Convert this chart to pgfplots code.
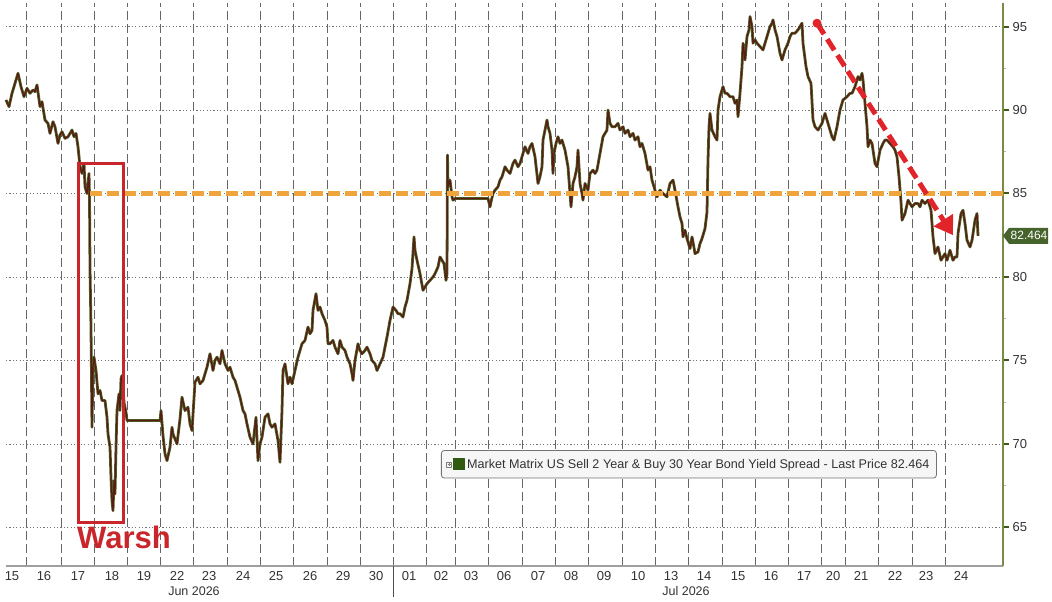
\documentclass[border=0pt]{standalone}
\usepackage{pgfplots}
\pgfplotsset{compat=1.18}
\usepackage{fontspec}
\setmainfont{Liberation Sans}
\usetikzlibrary{arrows.meta}
\definecolor{textgray}{HTML}{333333}
\definecolor{axisgreen}{HTML}{7A8A4A}
\definecolor{tickgreen}{HTML}{3E5A14}
\definecolor{candleG}{HTML}{4B5E23}
\definecolor{candleR}{HTML}{5B1A14}
\definecolor{orangeline}{HTML}{F0A53C}
\definecolor{warshred}{HTML}{C8262B}
\definecolor{arrowred}{HTML}{E0242A}
\definecolor{pricegreen}{HTML}{45632A}
\definecolor{legendgreen}{HTML}{2F5A10}
\pgfplotstableread{
x y
6 90.6
9 90.2
12 91.0
15 91.6
18 92.2
21 91.4
24 90.8
27 91.3
30 91.0
33 91.2
35 91.1
37 91.5
40 90.2
42 90.5
45 89.4
48 89.2
50 88.6
53 89.3
55 89.0
58 88.0
60 88.5
62 88.7
65 88.3
68 88.4
70 88.6
72 88.8
74 88.4
76 88.6
78 87.8
80 86.6
82 86.2
84 86.8
85 85.4
87 85.0
89 86.2
89.5 84.8
90 80.5
91 77.0
92 71.0
93 74.6
94 75.2
96 74.4
98 73.0
100 73.2
102 72.6
105 72.6
107 71.6
108 70.6
110 69.8
111 68.0
112 66.6
113 66.0
114 67.8
115 67.0
116 69.8
117 72.0
119 73.0
120 72.0
121 73.9
122 74.1
124 72.5
126 71.9
127 71.4
160 71.4
161 72.0
163 70.5
165 69.4
167 69.0
170 69.8
172 71.0
173 70.6
175 70.3
177 70.0
180 71.5
182 72.8
185 72.0
188 72.2
190 71.2
192 70.8
195 73.7
198 74.0
200 73.6
203 73.8
205 74.2
207 74.6
210 75.4
213 74.4
215 75.0
217 75.2
220 74.8
222 75.6
225 74.8
228 74.4
230 74.6
233 74.0
235 73.8
237 73.4
240 72.8
243 72.0
245 71.8
247 71.2
250 70.4
253 70.0
256 71.6
258 69.0
260 70.0
262 70.4
265 71.6
268 71.8
270 71.2
272 71.0
275 71.2
278 70.2
280 68.9
282 72.0
283 74.4
285 74.8
288 73.6
290 74.0
292 73.6
295 74.4
298 75.2
302 76.0
305 76.2
308 77.0
310 76.6
312 76.8
313 78.0
316 79.0
318 78.0
320 78.2
322 77.8
325 77.4
327 77.0
328 76.0
330 76.0
333 76.2
335 75.8
338 75.4
340 76.2
342 75.8
345 75.6
347 75.2
350 74.8
352 74.2
353 73.8
355 75.0
358 76.0
360 75.6
362 75.4
365 75.6
367 75.8
370 75.4
372 75.0
375 74.8
377 74.4
380 74.8
383 75.2
385 75.8
387 76.4
390 77.4
393 78.2
396 78.0
398 77.8
400 77.8
403 77.6
405 78.2
407 78.6
410 79.6
412 80.5
414 82.4
415 81.6
417 81.0
420 80.2
423 79.2
425 79.4
427 79.6
430 79.8
433 80.0
435 80.2
438 80.6
440 81.2
442 81.0
444 80.8
446 79.8
447 80.2
447.5 87.3
448 85.4
450 85.8
452 84.8
453 84.6
455 84.7
488 84.7
490 84.2
491 84.5
493 85.0
495 85.2
498 85.4
500 85.8
502 86.0
505 86.6
507 86.4
510 86.2
513 86.8
515 87.0
518 86.6
520 86.8
523 87.4
525 87.8
528 87.4
530 87.8
532 88.0
535 87.2
538 85.6
540 86.0
542 86.6
543 88.2
545 88.8
547 89.4
548 89.0
550 88.6
552 87.6
553 86.2
554 87.4
556 88.0
558 88.4
560 88.0
562 88.2
565 87.6
568 86.6
570 85.0
571 84.2
573 85.6
575 86.0
577 86.6
578 87.6
580 85.6
582 85.0
583 84.6
585 85.6
588 85.2
590 86.2
593 86.4
595 86.2
597 86.4
600 87.4
603 88.4
605 88.6
607 88.8
608 90.0
610 89.2
612 89.0
615 89.0
618 89.2
620 88.8
623 89.0
625 88.6
628 88.8
630 88.4
633 88.6
635 88.2
638 88.4
640 87.8
642 88.0
645 87.4
648 86.4
650 86.6
652 85.8
655 85.2
657 84.8
660 85.2
663 85.0
665 84.9
667 84.8
670 85.6
673 85.8
675 85.2
678 84.2
680 83.6
682 83.2
683 82.4
685 82.8
687 82.3
690 81.7
692 82.4
693 82.1
695 81.4
698 81.5
700 82.0
702 82.3
705 82.9
707 83.9
708 87.0
709 89.0
710 89.8
712 88.8
715 88.4
717 88.2
718 90.0
720 90.8
723 91.4
725 91.0
727 91.0
730 90.8
733 90.8
735 90.4
737 90.6
738 89.6
740 91.0
742 92.6
743 94.0
745 93.0
747 94.4
749 94.8
750 95.6
752 95.0
753 94.0
755 94.2
757 94.0
760 93.8
763 93.6
765 94.0
767 94.4
770 95.0
772 95.2
773 95.4
775 94.8
777 94.4
780 93.4
782 93.0
785 93.6
788 94.0
790 94.4
792 94.6
795 94.6
798 94.8
800 95.0
802 95.2
803 94.0
806 92.6
808 92.0
811 91.6
813 89.4
815 89.0
818 88.8
820 89.0
822 89.2
825 89.8
828 89.2
830 88.8
832 88.4
834 88.2
837 89.0
840 90.0
843 90.6
847 90.8
850 91.0
852 91.0
855 91.4
858 92.0
860 91.8
862 92.2
863 91.8
865 90.4
867 89.0
868 87.8
870 88.2
872 88.0
875 86.8
877 86.6
880 87.6
883 88.0
885 88.2
887 88.2
890 88.0
893 87.8
895 87.6
897 87.2
899 86.0
901 84.5
902 83.4
905 83.8
908 84.6
910 84.4
912 84.2
915 84.4
918 84.4
920 84.2
922 84.6
925 84.4
928 84.6
931 84.0
933 82.4
935 81.4
938 81.8
941 81.0
943 81.2
945 81.4
947 81.0
950 81.6
953 81.0
955 81.2
957 81.2
958 82.6
960 83.4
961 83.8
963 84.0
965 83.2
967 82.2
970 81.8
972 82.2
973 82.6
975 83.4
977 83.8
978 82.464
}\spread
\begin{document}
\begin{tikzpicture}
\path[use as bounding box] (0,0) rectangle (1052pt,602pt);
\begin{axis}[
  at={(6pt,36pt)}, anchor=south west,
  scale only axis, width=997pt, height=563pt,
  xmin=6, xmax=1003, ymin=62.69, ymax=96.41,
  clip=false,
  axis x line*=bottom, axis y line*=right,
  x axis line style={color=gray!75, line width=1.3pt},
  y axis line style={color=axisgreen, line width=1.5pt},
  xtick={12,44,78,112,144,177,209,243,276,310,343,376,409,441,471,504,538,571,604,638,671,704,738,771,804,833,861,895,926,961},
  xticklabels={15,16,17,18,19,22,23,24,25,26,29,30,01,02,03,06,07,08,09,10,13,14,15,16,17,20,21,22,23,24},
  minor xtick={26.7,61,94.3,127.7,160,193.3,227.7,260,293.3,327.7,360.7,393.3,426.7,455.7,488.7,522.7,555.7,588.7,622.7,655.7,688.3,722.7,755,788.3,821.7,845,878.3,912.3,945},
  xtick style={draw=none},
  minor x tick style={draw=none},
  xminorgrids=true,
  minor x grid style={dash pattern=on 9pt off 4pt, color=black!60, line width=0.9pt},
  ytick={65,70,75,80,85,90,95},
  minor ytick={67.5,72.5,77.5,82.5,87.5,92.5},
  ymajorgrids=true,
  major y grid style={dash pattern=on 1.2pt off 2.2pt, color=black!55, line width=0.8pt},
  tick align=outside,
  major tick length=6pt, minor tick length=3pt,
  ytick style={color=tickgreen, line width=2pt},
  minor y tick style={color=gray!60, line width=1pt},
  /pgf/number format/assume math mode=true,
  ticklabel style={font=\fontsize{13}{13}\selectfont, text=textgray},
  xticklabel style={yshift=4pt},
  yticklabel style={anchor=west, xshift=0pt},
  legend style={at={(axis description cs:0.4363,0.2060)}, anchor=north west,
    draw=black!55, fill=gray!7, rounded corners=3pt, line width=0.8pt,
    font=\fontsize{12.6}{12.6}\selectfont, text=textgray,
    inner xsep=5pt, inner ysep=6.5pt},
  legend cell align=left,
]
\addplot[candleG, line width=2.8pt, line join=round, forget plot] table[x=x,y=y] {\spread};
\addplot[candleR, line width=1.2pt, line join=round,
  legend image code/.code={
    \draw[gray, line width=0.4pt, sharp corners] (3pt,-2.5pt) rectangle (8pt,2.5pt);
    \draw[gray, line width=0.4pt, sharp corners] (4pt,0pt)--(7pt,0pt) (5.5pt,-1.5pt)--(5.5pt,1.5pt);
    \fill[legendgreen, sharp corners] (10pt,-5.5pt) rectangle (21pt,5.5pt);
  }] table[x=x,y=y] {\spread};
\addlegendentry{Market Matrix US Sell 2 Year \& Buy 30 Year Bond Yield Spread - Last Price 82.464}
\addplot[orangeline, line width=5pt, dash pattern=on 12pt off 5pt, forget plot] coordinates {(90,85) (1003,85)};
% Warsh box
\draw[warshred, line width=3pt] (axis cs:78,86.77) rectangle (axis cs:123.5,65.27);
\node[anchor=base west, inner sep=0pt, text=warshred, font=\bfseries\fontsize{31}{31}\selectfont] at (axis cs:77,63.71) {Warsh};
% red arrow
\fill[arrowred] (axis cs:817,95.2) circle (4.5pt);
\draw[arrowred, line width=5pt, dash pattern=on 13pt off 6pt, -{Triangle[length=18pt,width=22pt]}] (axis cs:817,95.2) -- (axis cs:953,82.5);
% month labels
\node[font=\fontsize{12.5}{12.5}\selectfont, text=textgray] at (axis cs:194,61.19) {Jun 2026};
\node[font=\fontsize{12.5}{12.5}\selectfont, text=textgray] at (axis cs:686,61.19) {Jul 2026};
\draw[black!70, line width=1pt] (axis cs:393.3,62.69) -- (axis cs:393.3,60.83);
% price tag
\fill[pricegreen] (axis cs:1003,82.464) -- ++(6pt,8pt) -- ++(39pt,0pt) -- ++(0pt,-16pt) -- ++(-39pt,0pt) -- cycle;
\node[text=white, font=\fontsize{12}{12}\selectfont] at (axis cs:1003,82.464) [xshift=26pt] {82.464};
\end{axis}
\end{tikzpicture}
\end{document}
